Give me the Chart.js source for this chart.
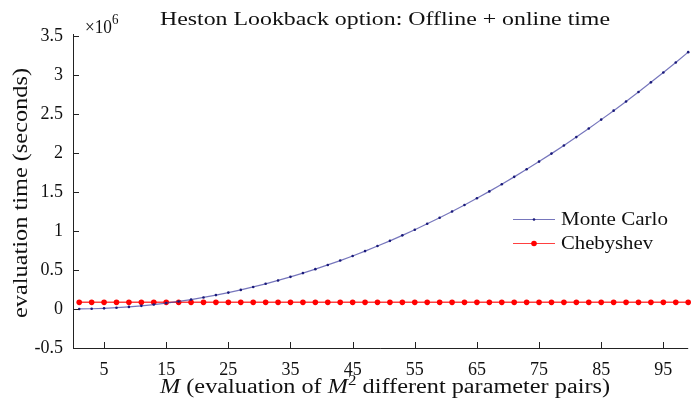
<!DOCTYPE html>
<html><head><meta charset="utf-8">
<script src="https://cdn.jsdelivr.net/npm/chart.js@4.4.0/dist/chart.umd.min.js"></script>
<style>html,body{margin:0;padding:0;background:#fff}#wrap{width:691px;height:407px}</style>
</head><body><div id="wrap"><canvas id="c" width="691" height="407"></canvas></div>
<script>
const M = [1,3,5,7,9,11,13,15,17,19,21,23,25,27,29,31,33,35,37,39,41,43,45,47,49,51,53,55,57,59,61,63,65,67,69,71,73,75,77,79,81,83,85,87,89,91,93,95,97,99];
const monteCarlo = [340,3000,8400,16500,27200,40700,56800,75600,97100,121000,148000,178000,210000,245000,283000,323000,366000,412000,460000,511000,565000,621000,680000,742000,807000,874000,944000,1016000,1092000,1170000,1250000,1334000,1420000,1508000,1600000,1694000,1791000,1890000,1992000,2097000,2204000,2315000,2428000,2543000,2661000,2782000,2906000,3032000,3161000,3293000];
const chebyshev = [85000,85000,85000,85000,85000,85000,85000,85000,85000,85000,85000,85000,85000,85000,85000,85000,85000,85000,85000,85000,85000,85000,85000,85000,85000,85000,85000,85000,85000,85000,85000,85000,85000,85000,85000,85000,85000,85000,85000,85000,85000,85000,85000,85000,85000,85000,85000,85000,85000,85000];
const xTicks = [5,15,25,35,45,55,65,75,85,95];
const yTicks = [-0.5,0,0.5,1,1.5,2,2.5,3,3.5];
const seriesNames = ['Monte Carlo','Chebyshev'];
const titleText = 'Heston Lookback option: Offline + online time';
const yTitle = 'evaluation time (seconds)';

const FONT = '"Liberation Serif", serif';
const mcColor = 'rgba(60,60,160,0.7)';
const mcPoint = '#1a1a7a';
const chColor = 'rgba(255,0,0,0.75)';
const chPoint = '#ff0000';

function fitText(ctx, text, x, y, width, font) {
  ctx.font = font;
  const w = ctx.measureText(text).width;
  ctx.save();
  ctx.translate(x, y);
  ctx.scale(width / w, 1);
  ctx.textAlign = 'left';
  ctx.fillText(text, 0, 0);
  ctx.restore();
}

const decor = {
  id: 'decor',
  afterDraw(chart) {
    const ctx = chart.ctx, a = chart.chartArea;
    const xs = chart.scales.x, ys = chart.scales.y;
    ctx.save();
    ctx.strokeStyle = '#222'; ctx.lineWidth = 1;
    ctx.beginPath();
    ctx.moveTo(Math.round(a.left)+0.5, a.top - 2); ctx.lineTo(Math.round(a.left)+0.5, Math.round(a.bottom)+0.5);
    ctx.lineTo(a.right, Math.round(a.bottom)+0.5);
    ctx.stroke();
    ctx.beginPath();
    xTicks.forEach(v => { const px = Math.round(xs.getPixelForValue(v))+0.5; ctx.moveTo(px, a.bottom); ctx.lineTo(px, a.bottom-6); });
    yTicks.forEach(v => { const py = Math.round(ys.getPixelForValue(v*1e6))+0.5; ctx.moveTo(a.left, py); ctx.lineTo(a.left+6, py); });
    ctx.stroke();
    ctx.fillStyle = '#111';
    ctx.textBaseline = 'alphabetic';
    fitText(ctx, titleText, 160, 25, 450, '19px ' + FONT);
    fitText(ctx, '\u00d710', 85, 33, 27, '19px ' + FONT);
    fitText(ctx, '6', 112, 24, 6.5, '14px ' + FONT);
    ctx.save();
    ctx.translate(27, 318);
    ctx.rotate(-Math.PI/2);
    fitText(ctx, yTitle, 0, 0, 250, '20px ' + FONT);
    ctx.restore();
    const parts = [
      {t:'M', f:'italic 20px ' + FONT, dy:0},
      {t:' (evaluation of ', f:'20px ' + FONT, dy:0},
      {t:'M', f:'italic 20px ' + FONT, dy:0},
      {t:'2', f:'14px ' + FONT, dy:-8},
      {t:' different parameter pairs)', f:'20px ' + FONT, dy:0}
    ];
    let total = 0;
    parts.forEach(p => { ctx.font = p.f; p.w = ctx.measureText(p.t).width; total += p.w; });
    const sx = 450 / total;
    ctx.save();
    ctx.translate(160, 393);
    ctx.scale(sx, 1);
    let x = 0;
    ctx.textAlign = 'left';
    parts.forEach(p => { ctx.font = p.f; ctx.fillText(p.t, x, p.dy); x += p.w; });
    ctx.restore();
    const lx0 = 513, lx1 = 555;
    const rows = [
      {name: seriesNames[0], line: mcColor, pt: mcPoint, r: 1.3, y: 219, tw: 107},
      {name: seriesNames[1], line: chColor, pt: chPoint, r: 2.8, y: 243, tw: 92}
    ];
    rows.forEach(r => {
      ctx.strokeStyle = r.line; ctx.lineWidth = 1.2;
      ctx.beginPath(); ctx.moveTo(lx0, r.y + 0.5); ctx.lineTo(lx1, r.y + 0.5); ctx.stroke();
      ctx.fillStyle = r.pt; ctx.beginPath(); ctx.arc((lx0+lx1)/2, r.y + 0.5, r.r, 0, Math.PI*2); ctx.fill();
      ctx.fillStyle = '#111';
      fitText(ctx, r.name, 561, r.y + 6, r.tw, '19px ' + FONT);
    });
    ctx.restore();
  }
};

new Chart(document.getElementById('c'), {
  type: 'line',
  data: {
    datasets: [
      { label: seriesNames[0], data: M.map((m,i)=>({x:m, y:monteCarlo[i]})), borderColor: mcColor, backgroundColor: mcPoint, borderWidth: 1.2, pointRadius: 1.3, pointHoverRadius: 0, pointBorderWidth: 0, pointBackgroundColor: mcPoint, tension: 0, order: 1, clip: 6 },
      { label: seriesNames[1], data: M.map((m,i)=>({x:m, y:chebyshev[i]})), borderColor: chColor, backgroundColor: chPoint, borderWidth: 1.5, pointRadius: 2.8, pointHoverRadius: 0, pointBorderWidth: 0, pointBackgroundColor: chPoint, tension: 0, order: 2, clip: 6 }
    ]
  },
  options: {
    responsive: false, animation: false, devicePixelRatio: 1,
    layout: { padding: { top: 36, right: -2.8, left: 0, bottom: 0 } },
    plugins: { legend: { display: false }, tooltip: { enabled: false }, title: { display: false } },
    scales: {
      x: {
        type: 'linear', min: 0, max: 99,
        afterBuildTicks: s => { s.ticks = xTicks.map(v => ({value: v})); },
        afterFit: s => { s.height = 59; s.paddingLeft = 0; s.paddingRight = 0; },
        grid: { display: false, drawTicks: false },
        border: { display: false },
        ticks: { padding: 11, color: '#111', font: { family: FONT, size: 18 }, maxRotation: 0, autoSkip: false }
      },
      y: {
        type: 'linear', min: -0.5e6, max: 3.5e6,
        afterBuildTicks: s => { s.ticks = yTicks.map(v => ({value: v*1e6})); },
        afterFit: s => { s.width = 73; s.paddingTop = 0; s.paddingBottom = 0; },
        grid: { display: false, drawTicks: false },
        border: { display: false },
        ticks: { padding: 10, color: '#111', font: { family: FONT, size: 18 }, callback: v => String(Math.round(v/1e5)/10) }
      }
    }
  },
  plugins: [decor]
});
</script></body></html>
